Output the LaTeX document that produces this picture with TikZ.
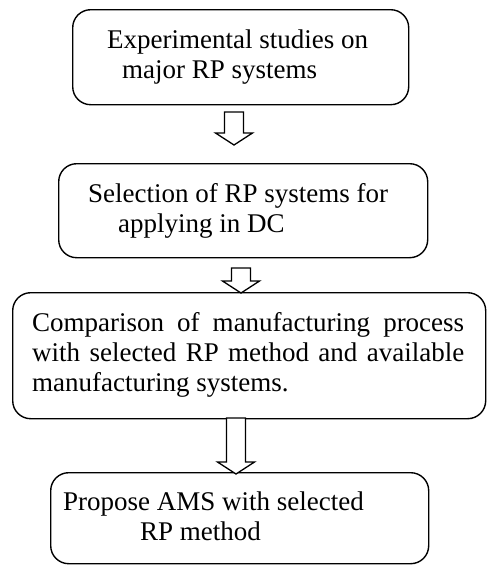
\documentclass[tikz,border=0pt]{standalone}
\usepackage{fontspec}
\setmainfont{Liberation Serif}
\usetikzlibrary{calc}
\tikzset{
  stepbox/.style={draw, line width=1.4pt, rounded corners=18pt, inner sep=0pt, anchor=north west},
  label/.style={anchor=base west, inner sep=0pt, font=\fontsize{27}{30}\selectfont},
  hollow/.style={draw, line width=1.3pt, line join=miter, fill=white}
}
% hollow block arrow pointing down: #1 = top of shaft, #2 = tip
\newcommand\hollowdown[2]{%
  \draw[hollow] ($(#1)+(-9.5pt,0pt)$) -- ($(#2)+(-9.5pt,12pt)$) -- ($(#2)+(-18.5pt,12pt)$)
    -- (#2) -- ($(#2)+(18.5pt,12pt)$) -- ($(#2)+(9.5pt,12pt)$) -- ($(#1)+(9.5pt,0pt)$) -- cycle;}
\begin{document}
\begin{tikzpicture}[x=1pt,y=-1pt]
\useasboundingbox[fill=white] (0,0) rectangle (488,565);

% boxes
\node[stepbox, minimum width=336pt, minimum height=95pt]  (b1) at (72,9)   {};
\node[stepbox, minimum width=369pt, minimum height=94pt]  (b2) at (58,163) {};
\node[stepbox, minimum width=473pt, minimum height=126pt] (b3) at (12,292) {};
\node[stepbox, minimum width=378pt, minimum height=91pt]  (b4) at (50,472) {};

% texts
\node[label] (t1a) at (107,48)  {Experimental studies on};
\node[label] (t1b) at (122,78)  {major RP systems};
\node[label] (t2a) at (88,202)  {Selection of RP systems for};
\node[label] (t2b) at (118,232) {applying in DC};
\node[label] (t3a) at (32,331)  {\makebox[432pt][s]{Comparison of manufacturing process}};
\node[label] (t3b) at (32,361)  {\makebox[432pt][s]{with selected RP method and available}};
\node[label] (t3c) at (32,391)  {manufacturing systems.};
\node[label] (t4a) at (63,510)  {Propose AMS with selected};
\node[label] (t4b) at (140,540) {RP method};

% connectors
\coordinate (a1top) at (234,112);
\coordinate (a1tip) at (234,145);
\coordinate (a2top) at (241,268);
\coordinate (a2tip) at (241,293);
\coordinate (a3top) at (236,418);
\coordinate (a3tip) at (236,474);
\hollowdown{a1top}{a1tip}
\hollowdown{a2top}{a2tip}
\hollowdown{a3top}{a3tip}
\end{tikzpicture}
\end{document}
